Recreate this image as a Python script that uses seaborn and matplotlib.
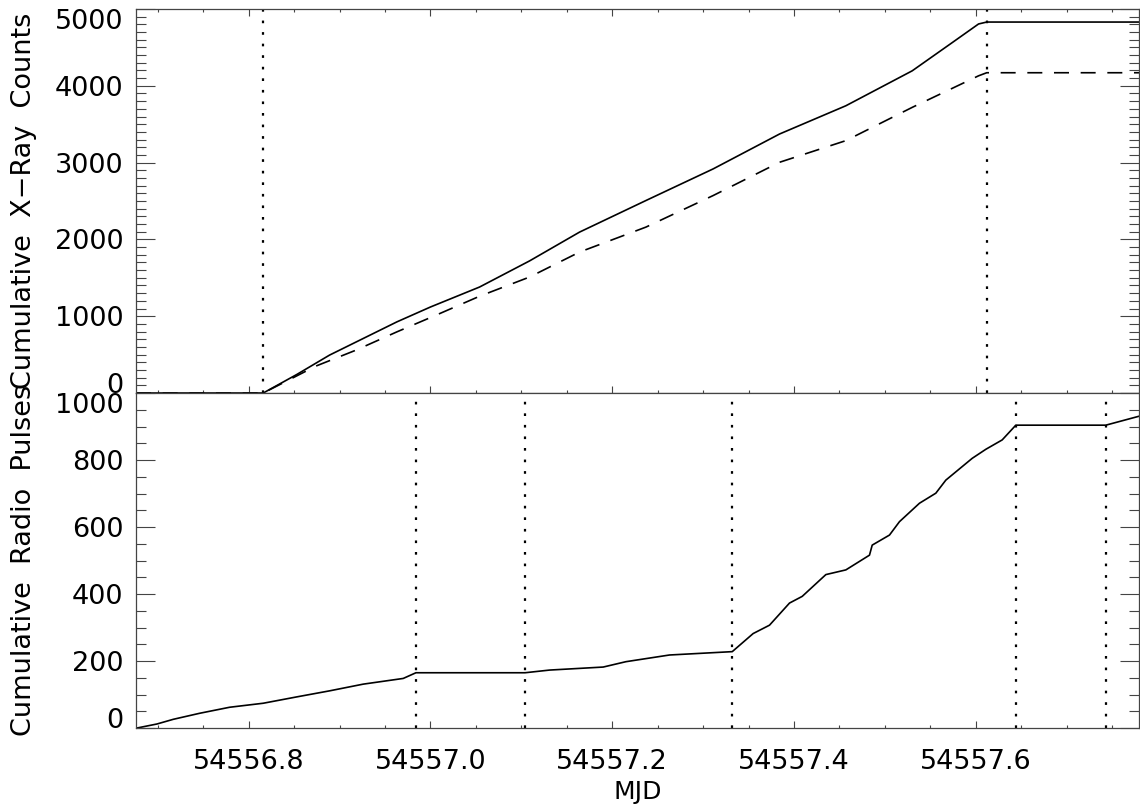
import matplotlib
matplotlib.use("Agg")
import matplotlib.pyplot as plt
import seaborn as sns
from matplotlib.ticker import MultipleLocator, FormatStrFormatter

# DATA
xray_mjd = [54556.676, 54556.816, 54556.853, 54556.889, 54556.926, 54556.963,
            54557.000, 54557.054, 54557.109, 54557.164, 54557.237, 54557.311,
            54557.384, 54557.457, 54557.530, 54557.574, 54557.603, 54557.612,
            54557.780]
xray_total = [0, 0, 242, 494, 710, 926,
              1120, 1380, 1720, 2095, 2506, 2918,
              3372, 3740, 4195, 4562, 4805, 4830,
              4830]

xray_sub_mjd = [54556.676, 54556.816, 54556.874, 54556.918, 54556.963, 54557.006,
                54557.054, 54557.109, 54557.164, 54557.237, 54557.311, 54557.384,
                54557.457, 54557.530, 54557.603, 54557.612, 54557.780]
xray_sub = [0, 0, 351, 558, 796, 1013,
            1260, 1510, 1835, 2160, 2571, 3004,
            3286, 3719, 4130, 4170, 4170]

radio_mjd = [54556.677, 54556.699, 54556.717, 54556.746, 54556.779, 54556.816,
             54556.853, 54556.889, 54556.926, 54556.970, 54556.984, 54557.104,
             54557.131, 54557.190, 54557.215, 54557.263, 54557.332, 54557.355,
             54557.373, 54557.395, 54557.409, 54557.435, 54557.457, 54557.483,
             54557.486, 54557.505, 54557.516, 54557.538, 54557.556, 54557.567,
             54557.596, 54557.611, 54557.629, 54557.644, 54557.743, 54557.780]
radio_pulses = [0, 12, 26, 44, 62, 74,
                93, 111, 131, 148, 165, 165,
                173, 182, 198, 218, 228, 282,
                307, 373, 393, 458, 472, 516,
                546, 576, 616, 671, 701, 740,
                805, 832, 860, 904, 904, 931]

xray_windows = [54556.816, 54557.612]
radio_windows = [54556.984, 54557.104, 54557.332, 54557.644, 54557.743]

x_ticks = [54556.8, 54557.0, 54557.2, 54557.4, 54557.6]

# STYLE
sns.set_style("ticks")
plt.rcParams['font.family'] = ['DejaVu Sans']
plt.rcParams['axes.linewidth'] = 0.9
plt.rcParams['axes.edgecolor'] = '#444444'
plt.rcParams['text.color'] = 'black'
plt.rcParams['axes.labelcolor'] = 'black'
plt.rcParams['xtick.labelcolor'] = 'black'
plt.rcParams['ytick.labelcolor'] = 'black'

fig = plt.figure(figsize=(11.4, 8.1), dpi=100)
ax_top = fig.add_axes([0.1193, 0.5148, 0.8802, 0.4741])
ax_bot = fig.add_axes([0.1193, 0.1012, 0.8802, 0.4136])

# top panel: cumulative X-ray counts
sns.lineplot(x=xray_mjd, y=xray_total, ax=ax_top, color='black', lw=1.2, estimator=None)
sns.lineplot(x=xray_sub_mjd, y=xray_sub, ax=ax_top, color='black', lw=1.2, estimator=None)
ax_top.lines[-1].set_dashes((9, 7))
for m in xray_windows:
    ax_top.axvline(m, color='black', lw=1.6, linestyle=(0, (1.2, 4)))

# bottom panel: cumulative radio pulses
sns.lineplot(x=radio_mjd, y=radio_pulses, ax=ax_bot, color='black', lw=1.2, estimator=None)
for m in radio_windows:
    ax_bot.axvline(m, color='black', lw=1.6, linestyle=(0, (1.2, 4)))

# axes setup
for ax in (ax_top, ax_bot):
    ax.set_xlim(54556.676, 54557.78)
    ax.set_xticks(x_ticks)
    ax.xaxis.set_minor_locator(MultipleLocator(0.05))
    ax.xaxis.set_major_formatter(FormatStrFormatter('%.1f'))
    ax.tick_params(axis='x', which='major', direction='in', length=5, width=0.8,
                   labelsize=19.5, pad=15, color='#444444')
    ax.tick_params(axis='x', which='minor', direction='in', length=2.5, width=0.8,
                   color='#444444')
    ax.tick_params(axis='y', which='major', direction='in', length=13.5, width=0.8,
                   labelsize=19.5, pad=9, left=True, right=True, color='#444444')
    ax.tick_params(axis='y', which='minor', direction='in', length=7, width=0.8,
                   left=True, right=True, color='#444444')

ax_top.set_ylim(0, 5000)
ax_top.set_yticks([0, 1000, 2000, 3000, 4000, 5000])
ax_top.yaxis.set_minor_locator(MultipleLocator(100))
ax_top.tick_params(axis='x', which='both', top=True, bottom=True, labelbottom=False)
ax_top.set_xlabel("")
ax_top.set_ylabel("Cumulative  X\u2212Ray  Counts", fontsize=19.5)
ax_top.yaxis.set_label_coords(-0.099, 0.5)

ax_bot.set_ylim(0, 1000)
ax_bot.set_yticks([0, 200, 400, 600, 800, 1000])
ax_bot.yaxis.set_minor_locator(MultipleLocator(50))
ax_bot.tick_params(axis='x', which='both', top=False, bottom=True)
ax_bot.set_xlabel("MJD", fontsize=18, labelpad=4)
ax_bot.set_ylabel("Cumulative  Radio  Pulses", fontsize=19.5)
ax_bot.yaxis.set_label_coords(-0.099, 0.5)

# keep edge labels inside the panel, like the original
for ax in (ax_top, ax_bot):
    ticks = ax.yaxis.get_major_ticks()
    ticks[0].label1.set_verticalalignment('baseline')
    ticks[-1].label1.set_verticalalignment('top')

plt.savefig("out.png", dpi=100)
